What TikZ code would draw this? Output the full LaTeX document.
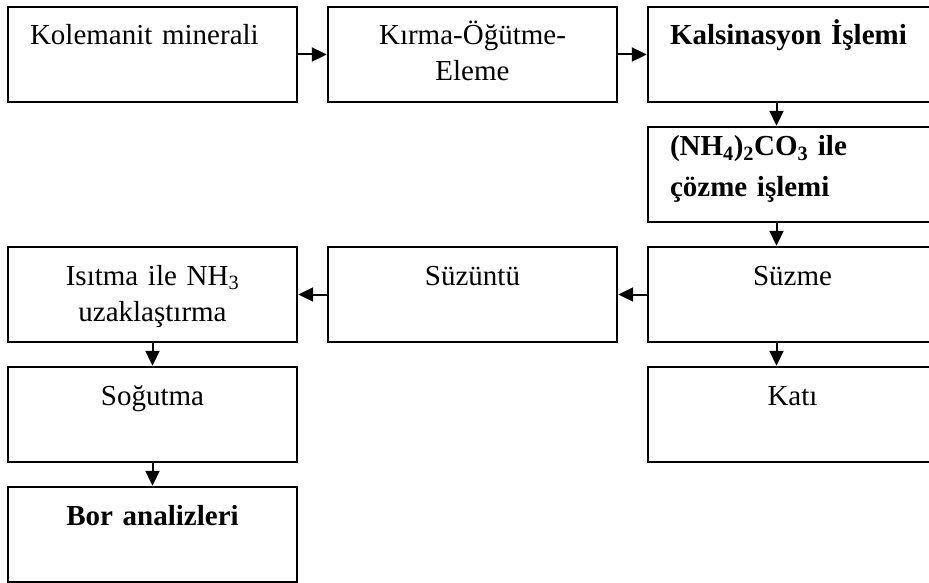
\documentclass[tikz,border=0pt]{standalone}
\usepackage{fontspec}
\setmainfont{Liberation Serif}
\usetikzlibrary{arrows.meta}

\begin{document}
\begin{tikzpicture}[x=1pt,y=-1pt]
\tikzstyle{every node}+=[font=\fontsize{29}{36}\selectfont]
\tikzstyle{box}=[draw, line width=2.4pt, inner sep=0pt, minimum width=289pt, minimum height=95pt, text width=289pt, align=center, text height=38pt, text depth=57pt]
\tikzstyle{leftbox}=[box, inner xsep=22pt, text width=245pt, align=left]
\tikzstyle{heavy}=[font=\fontsize{29}{36}\selectfont\bfseries]
\tikzstyle{arr}=[line width=2pt, -{Triangle[length=15pt,width=14pt]}]
\useasboundingbox (0,0) rectangle (929,583);
\node[leftbox] (kolemanit) at (152.5,54.5) {Kolemanit minerali};
\node[box] (kirma) at (472.5,54.5) {Kırma-Öğütme-\\Eleme};
\node[leftbox, heavy] (kalsin) at (792.5,54.5) {Kalsinasyon İşlemi};
\node[leftbox, heavy, text height=29pt, text depth=66pt] (cozme) at (792.5,174.5) {(NH\textsubscript{4})\textsubscript{2}CO\textsubscript{3} ile\\[5pt]çözme işlemi};
\node[box] (suzme) at (792.5,294.5) {Süzme};
\node[box] (kati) at (792.5,414.5) {Katı};
\node[box] (suzuntu) at (472.5,294.5) {Süzüntü};
\node[box] (isitma) at (152.5,294.5) {Isıtma ile NH\textsubscript{3}\\uzaklaştırma};
\node[box] (sogutma) at (152.5,414.5) {Soğutma};
\node[box, heavy] (bor) at (152.5,534.5) {Bor analizleri};
\draw[arr] (kolemanit) -- (kirma);
\draw[arr] (kirma) -- (kalsin);
\draw[arr] ([xshift=-16pt]kalsin.south) -- ([xshift=-16pt]cozme.north);
\draw[arr] ([xshift=-16pt]cozme.south) -- ([xshift=-16pt]suzme.north);
\draw[arr] (suzme) -- (suzuntu);
\draw[arr] (suzuntu) -- (isitma);
\draw[arr] ([xshift=-16pt]suzme.south) -- ([xshift=-16pt]kati.north);
\draw[arr] (isitma) -- (sogutma);
\draw[arr] (sogutma) -- (bor);
\end{tikzpicture}
\end{document}
